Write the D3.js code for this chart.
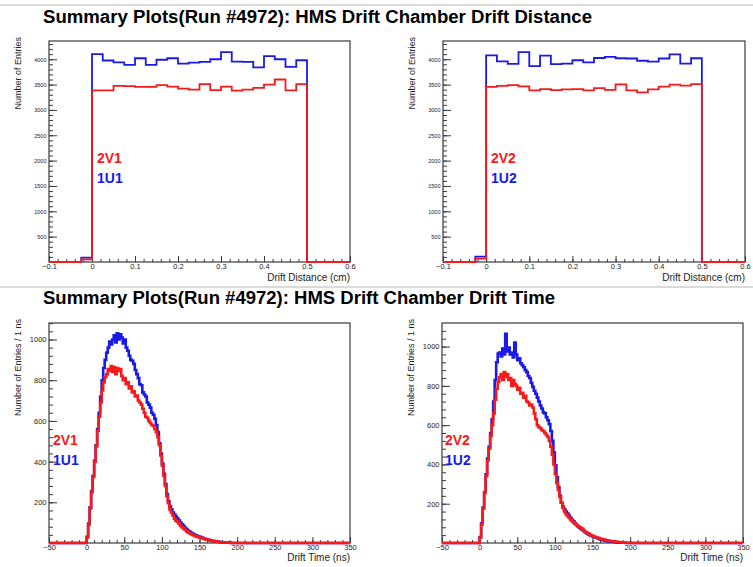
<!DOCTYPE html>
<html>
<head>
<meta charset="utf-8">
<script src="https://cdn.jsdelivr.net/npm/d3@7"></script>
<style>
  body { margin: 0; background: #fff; }
  svg { display: block; font-family: "Liberation Sans", Arial, sans-serif; }
</style>
</head>
<body>
<script>
// drift distance histograms: bins of 0.025 cm starting at -0.1 cm
const distStart = -0.1;
const distBinWidth = 0.025;
const dist2V1 = [0, 0, 0, 53, 3385, 3385, 3475, 3470, 3455, 3455, 3490, 3460, 3420, 3400, 3510, 3390, 3460, 3380, 3400, 3435, 3500, 3600, 3385, 3510, 0, 0, 0, 0];
const dist1U1 = [0, 0, 0, 85, 4100, 3975, 3940, 3890, 4020, 3890, 3990, 4020, 3915, 3935, 3950, 4000, 4140, 3955, 3950, 3840, 4060, 4000, 3850, 3980, 0, 0, 0, 0];
const dist2V2 = [0, 0, 0, 65, 3455, 3475, 3490, 3465, 3385, 3410, 3390, 3405, 3410, 3385, 3430, 3395, 3505, 3385, 3345, 3405, 3460, 3500, 3480, 3510, 0, 0, 0, 0];
const dist1U2 = [0, 0, 0, 105, 4075, 3960, 3910, 4140, 3865, 4070, 3905, 3915, 3980, 3940, 4025, 4045, 4020, 4015, 3970, 3955, 4015, 4095, 3915, 4020, 0, 0, 0, 0];

// drift time histograms: 2 ns bins starting at 0 ns (empty outside)
const timeStart = 0;
const timeBinWidth = 2;
const time2V1 = [28, 90, 170, 250, 325, 400, 475, 550, 620, 690,
  750, 790, 815, 830, 855, 845, 870, 840, 865, 830,
  860, 845, 855, 820, 800, 810, 780, 790, 760, 770,
  740, 745, 720, 725, 700, 690, 680, 660, 640, 620,
  615, 600, 590, 580, 575, 560, 545, 520, 480, 430,
  380, 330, 280, 230, 195, 165, 150, 135, 120, 110,
  105, 95, 85, 78, 72, 65, 58, 52, 48, 44,
  40, 37, 34, 31, 29, 27, 24, 22, 20, 18,
  16, 14, 12, 10, 9, 8, 7, 6, 5, 4,
  3, 3, 2, 2, 1, 1];
const time1U1 = [30, 95, 175, 255, 330, 405, 480, 560, 640, 720,
  800, 860, 900, 935, 960, 990, 975, 1000, 1020, 985,
  1030, 1000, 1025, 1010, 980, 1000, 960, 945, 920, 900,
  895, 880, 850, 830, 810, 780, 775, 740, 730, 720,
  690, 680, 665, 640, 630, 610, 580, 545, 490, 440,
  390, 340, 290, 240, 205, 180, 165, 150, 140, 130,
  120, 110, 100, 92, 85, 75, 68, 60, 56, 50,
  46, 42, 38, 35, 32, 30, 27, 24, 21, 19,
  17, 15, 13, 11, 9, 8, 7, 6, 5, 4,
  3, 2, 2, 2, 1, 1];
const time2V2 = [28, 95, 175, 255, 340, 420, 480, 545, 600, 660,
  730, 785, 820, 845, 860, 830, 870, 845, 860, 830,
  840, 800, 830, 810, 800, 780, 790, 760, 765, 740,
  750, 720, 715, 700, 705, 690, 660, 630, 600, 590,
  585, 575, 570, 560, 550, 540, 520, 490, 450, 400,
  350, 305, 270, 235, 205, 180, 160, 148, 138, 130,
  120, 112, 105, 98, 92, 85, 80, 76, 72, 62,
  56, 52, 48, 42, 38, 35, 32, 29, 27, 25,
  22, 20, 18, 16, 14, 12, 11, 10, 9, 8,
  7, 6, 5, 4, 3, 2, 2, 1, 1];
const time1U2 = [30, 100, 180, 260, 350, 430, 490, 560, 630, 720,
  830, 920, 965, 970, 950, 990, 960, 1065, 975, 995,
  960, 970, 945, 1020, 960, 930, 940, 915, 905, 895,
  880, 870, 850, 840, 815, 795, 775, 760, 740, 720,
  700, 685, 665, 660, 640, 625, 605, 570, 520, 460,
  395, 335, 285, 240, 205, 185, 172, 160, 150, 140,
  128, 118, 110, 100, 92, 86, 78, 72, 66, 60,
  54, 48, 44, 40, 36, 33, 30, 27, 24, 21,
  18, 16, 14, 12, 10, 9, 8, 7, 6, 5,
  4, 3, 3, 2, 2, 1, 1];

// axis ticks
const distTicks = [-0.1, 0, 0.1, 0.2, 0.3, 0.4, 0.5, 0.6];
const distCountTicks = [500, 1000, 1500, 2000, 2500, 3000, 3500, 4000];
const timeTicks = [-50, 0, 50, 100, 150, 200, 250, 300, 350];
const timeCountTicks = [200, 400, 600, 800, 1000];

const titles = [
  "Summary Plots(Run #4972): HMS Drift Chamber Drift Distance",
  "Summary Plots(Run #4972): HMS Drift Chamber Drift Time"
];

const RED = "#f81a1a", BLUE = "#1a1ae8";

const svg = d3.select("body").append("svg")
  .attr("width", 753)
  .attr("height", 567);

// separators and section titles
svg.append("line").attr("x1", 0).attr("x2", 753).attr("y1", 5).attr("y2", 5)
  .attr("stroke", "#cfcfcf").attr("stroke-width", 1.5);
svg.append("line").attr("x1", 0).attr("x2", 753).attr("y1", 287).attr("y2", 287)
  .attr("stroke", "#cfcfcf").attr("stroke-width", 1.5);

svg.append("text").attr("x", 43).attr("y", 23)
  .attr("font-size", 18).attr("font-weight", "bold")
  .attr("textLength", 549).attr("lengthAdjust", "spacingAndGlyphs")
  .text(titles[0]);
svg.append("text").attr("x", 43).attr("y", 304)
  .attr("font-size", 18).attr("font-weight", "bold")
  .attr("textLength", 512).attr("lengthAdjust", "spacingAndGlyphs")
  .text(titles[1]);

// turn per-bin contents into step points
function steps(values, start, width) {
  const pts = values.map((v, i) => [start + i * width, v]);
  pts.push([start + values.length * width, values[values.length - 1]]);
  return pts;
}

function padTime(values) {
  // empty bins from -50 to the first filled bin and after the last one
  const before = d3.range(-50, timeStart, timeBinWidth).map(() => 0);
  const after = d3.range(timeStart + values.length * timeBinWidth, 350, timeBinWidth).map(() => 0);
  return { start: -50, vals: before.concat(values, after) };
}

function fmt(d) {
  if (d === 0) return "0";
  const s = Number.isInteger(d) ? String(d) : d3.format(".1f")(d);
  return s.replace("-", "\u2212");
}

function panel(cfg) {
  const g = svg.append("g");
  const x = d3.scaleLinear().domain(cfg.xDom).range([cfg.left, cfg.right]);
  const y = d3.scaleLinear().domain(cfg.yDom).range([cfg.bottom, cfg.top]);

  // frame
  g.append("rect")
    .attr("x", cfg.left).attr("y", cfg.top)
    .attr("width", cfg.right - cfg.left).attr("height", cfg.bottom - cfg.top)
    .attr("fill", "none").attr("stroke", "#3a3a3a").attr("stroke-width", 1.2);

  // y axis (ticks inside the frame like ROOT)
  const minorY = d3.range(cfg.yMinor, cfg.yDom[1], cfg.yMinor);
  g.append("g").attr("transform", `translate(${cfg.left},0)`)
    .call(d3.axisLeft(y).tickValues(minorY).tickSize(-4).tickFormat(""))
    .call(a => a.select(".domain").remove());
  const ya = g.append("g").attr("transform", `translate(${cfg.left},0)`)
    .call(d3.axisLeft(y).tickValues(cfg.yTicks).tickSize(-8).tickPadding(2.5).tickFormat(fmt))
    .call(a => a.select(".domain").remove());
  ya.selectAll("text").attr("font-size", cfg.yLabelSize).attr("fill", "#222");

  // x axis
  const minorX = d3.range(cfg.xDom[0], cfg.xDom[1] + cfg.xMinor / 2, cfg.xMinor);
  g.append("g").attr("transform", `translate(0,${cfg.bottom})`)
    .call(d3.axisBottom(x).tickValues(minorX).tickSize(-3).tickFormat(""))
    .call(a => a.select(".domain").remove());
  const xa = g.append("g").attr("transform", `translate(0,${cfg.bottom})`)
    .call(d3.axisBottom(x).tickValues(cfg.xTicks).tickSize(-6).tickPadding(2).tickFormat(fmt))
    .call(a => a.select(".domain").remove());
  xa.selectAll("text").attr("font-size", 7.5).attr("fill", "#222");
  g.selectAll(".tick line").attr("stroke", "#3a3a3a");

  // axis titles
  g.append("text")
    .attr("transform", `translate(${cfg.left - 28},${cfg.top - 4}) rotate(-90)`)
    .attr("text-anchor", "end").attr("font-size", 9).attr("fill", "#222")
    .text(cfg.yTitle);
  g.append("text")
    .attr("x", cfg.right).attr("y", cfg.bottom + cfg.xTitleDy)
    .attr("text-anchor", "end").attr("font-size", 10).attr("fill", "#222")
    .text(cfg.xTitle);

  // histograms, blue first then red on top
  const line = d3.line().x(d => x(d[0])).y(d => y(d[1])).curve(d3.curveStepAfter);
  cfg.series.forEach(s => {
    g.append("path")
      .datum(steps(s.vals, s.start, s.width))
      .attr("fill", "none").attr("stroke", s.color)
      .attr("stroke-width", cfg.lineWidth).attr("stroke-linejoin", "miter")
      .attr("d", line);
  });

  // legend labels
  cfg.labels.forEach((l, i) => {
    g.append("text")
      .attr("x", cfg.labelX).attr("y", cfg.labelY + i * 20)
      .attr("font-size", 14).attr("font-weight", "bold")
      .attr("fill", l.color).text(l.text);
  });
}

const distCommon = {
  xDom: [-0.1, 0.6], yDom: [0, 4360], xTicks: distTicks, yTicks: distCountTicks,
  yMinor: 100, xMinor: 0.02, yLabelSize: 5.5, lineWidth: 1.8,
  yTitle: "Number of Entries", xTitle: "Drift Distance (cm)", xTitleDy: 19,
  top: 41, bottom: 262, labelY: 163
};
const timeCommon = {
  xDom: [-50, 350], xTicks: timeTicks, yTicks: timeCountTicks,
  yMinor: 40, xMinor: 10, yLabelSize: 7.5, lineWidth: 2.6,
  yTitle: "Number of Entries / 1 ns", xTitle: "Drift Time (ns)", xTitleDy: 18,
  top: 323, bottom: 543, labelY: 445
};

const t1U1 = padTime(time1U1), t2V1 = padTime(time2V1);
const t1U2 = padTime(time1U2), t2V2 = padTime(time2V2);

panel(Object.assign({}, distCommon, {
  left: 49, right: 350, labelX: 97,
  series: [
    { vals: dist1U1, start: distStart, width: distBinWidth, color: BLUE },
    { vals: dist2V1, start: distStart, width: distBinWidth, color: RED }
  ],
  labels: [{ text: "2V1", color: RED }, { text: "1U1", color: BLUE }]
}));
panel(Object.assign({}, distCommon, {
  left: 443, right: 745, labelX: 491,
  series: [
    { vals: dist1U2, start: distStart, width: distBinWidth, color: BLUE },
    { vals: dist2V2, start: distStart, width: distBinWidth, color: RED }
  ],
  labels: [{ text: "2V2", color: RED }, { text: "1U2", color: BLUE }]
}));
panel(Object.assign({}, timeCommon, {
  left: 49, right: 350, yDom: [0, 1081], labelX: 53,
  series: [
    { vals: t1U1.vals, start: t1U1.start, width: timeBinWidth, color: BLUE },
    { vals: t2V1.vals, start: t2V1.start, width: timeBinWidth, color: RED }
  ],
  labels: [{ text: "2V1", color: RED }, { text: "1U1", color: BLUE }]
}));
panel(Object.assign({}, timeCommon, {
  left: 442, right: 743, yDom: [0, 1120], labelX: 445,
  series: [
    { vals: t1U2.vals, start: t1U2.start, width: timeBinWidth, color: BLUE },
    { vals: t2V2.vals, start: t2V2.start, width: timeBinWidth, color: RED }
  ],
  labels: [{ text: "2V2", color: RED }, { text: "1U2", color: BLUE }]
}));
</script>
</body>
</html>
